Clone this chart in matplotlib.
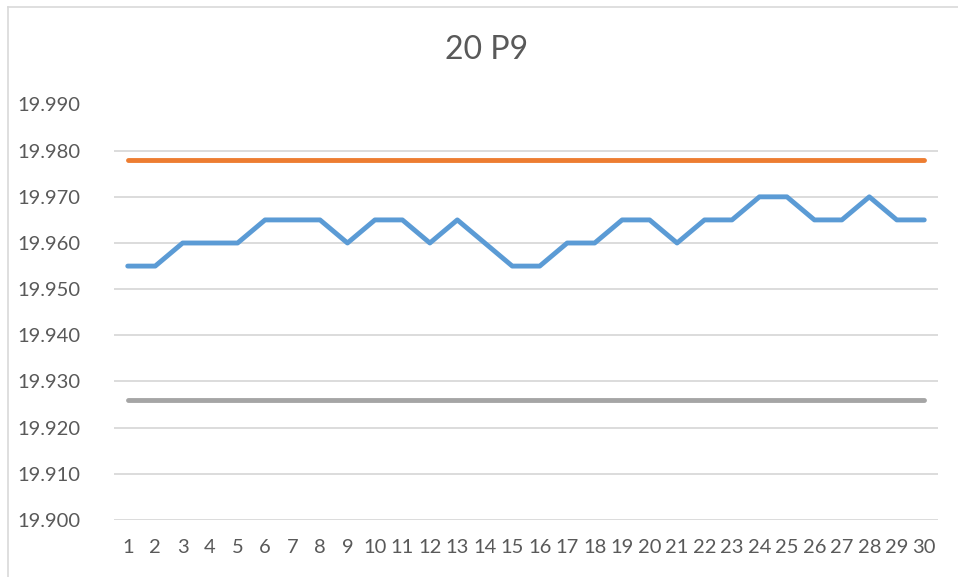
import matplotlib
matplotlib.use("Agg")
from matplotlib import pyplot as plt
from matplotlib.lines import Line2D
import numpy as np

# data
samples = np.arange(1, 31)
measured = [19.955, 19.955, 19.960, 19.960, 19.960, 19.965, 19.965, 19.965, 19.960, 19.965,
            19.965, 19.960, 19.965, 19.960, 19.955, 19.955, 19.960, 19.960, 19.965, 19.965,
            19.960, 19.965, 19.965, 19.970, 19.970, 19.965, 19.965, 19.970, 19.965, 19.965]
upper_limit = [19.978] * 30
lower_limit = [19.926] * 30
y_ticks = [19.900, 19.910, 19.920, 19.930, 19.940, 19.950, 19.960, 19.970, 19.980, 19.990]
title = "20 P9"

plt.rcParams['font.family'] = ['Lato', 'DejaVu Sans']
text_col = '#595959'

fig = plt.figure(figsize=(9.58, 5.77), dpi=100)
ax = fig.add_axes([114 / 958, 1 - 520 / 577, (938 - 114) / 958, (520 - 104.5) / 577])

ax.plot(samples, measured, color='#5B9BD5', lw=3.5, solid_capstyle='round', solid_joinstyle='round', zorder=3)
ax.plot(samples, upper_limit, color='#ED7D31', lw=3.5, solid_capstyle='round', zorder=3)
ax.plot(samples, lower_limit, color='#A5A5A5', lw=3.5, solid_capstyle='round', zorder=3)

ax.set_xlim(0.5, 30.5)
ax.set_ylim(19.900, 19.990)
ax.set_yticks(y_ticks)
ax.set_yticklabels(['%.3f' % v for v in y_ticks])
ax.set_xticks(samples)
ax.set_xticklabels([str(s) for s in samples])
ax.grid(axis='y', color='#D9D9D9', lw=1.3)
ax.set_axisbelow(True)
for s in ax.spines.values():
    s.set_visible(False)
ax.tick_params(axis='both', length=0, labelsize=14.5, colors=text_col)
ax.tick_params(axis='y', pad=24)
ax.tick_params(axis='x', pad=14)

fig.text(487 / 958, 1 - 50 / 577, title, ha='center', va='center', fontsize=23, color=text_col)

# chart frame (left and top edges visible)
fig.add_artist(Line2D([7.5 / 958, 7.5 / 958], [0, 1 - 6.5 / 577], color='#D9D9D9', lw=1.2))
fig.add_artist(Line2D([7.5 / 958, 1], [1 - 6.5 / 577, 1 - 6.5 / 577], color='#D9D9D9', lw=1.2))

fig.savefig('out.png', dpi=100)
